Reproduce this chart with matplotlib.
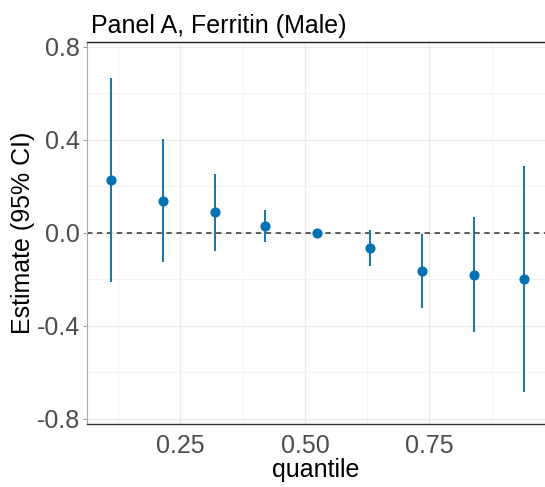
import matplotlib.pyplot as plt
import numpy as np
from matplotlib.ticker import MultipleLocator, FixedLocator

plt.rcParams['font.family'] = ['Liberation Sans', 'DejaVu Sans']

# quantile regression estimates with 95% CI
quantile = [0.11, 0.215, 0.32, 0.42, 0.525, 0.63, 0.735, 0.84, 0.94]
estimate = [0.226, 0.137, 0.089, 0.030, 0.0, -0.067, -0.164, -0.180, -0.198]
ci_low = [-0.214, -0.127, -0.080, -0.040, 0.0, -0.144, -0.325, -0.427, -0.684]
ci_high = [0.664, 0.401, 0.254, 0.096, 0.0, 0.010, -0.004, 0.067, 0.287]

x_ticks = [0.25, 0.50, 0.75]
x_tick_labels = ['0.25', '0.50', '0.75']
y_ticks = [-0.8, -0.4, 0.0, 0.4, 0.8]
y_tick_labels = ['-0.8', '-0.4', '0.0', '0.4', '0.8']

col = '#0072B2'

fig = plt.figure(figsize=[5.45, 4.87], dpi=100)
ax = fig.add_axes([87/545, 63/487, 1 - 87/545, (424 - 42)/487])

ax.axhline(0, color='#333333', linestyle=(0, (3.5, 3)), linewidth=1.1, zorder=2)
ax.vlines(quantile, ci_low, ci_high, color='#1874AA', linewidth=1.4, zorder=3)
ax.plot(quantile, estimate, 'o', color=col, markersize=6.3, zorder=4)

ax.set_xlim(0.0625, 0.982)
ax.set_ylim(-0.823, 0.82)
ax.set_xticks(x_ticks)
ax.set_xticklabels(x_tick_labels)
ax.set_yticks(y_ticks)
ax.set_yticklabels(y_tick_labels)
ax.xaxis.set_minor_locator(FixedLocator([0.125, 0.375, 0.625, 0.875]))
ax.yaxis.set_minor_locator(FixedLocator([-0.6, -0.2, 0.2, 0.6]))

ax.grid(True, which='major', color='#EBEBEB', linewidth=1.0, zorder=0)
ax.grid(True, which='minor', color='#F2F2F2', linewidth=0.6, zorder=0)
ax.set_axisbelow(True)

ax.tick_params(axis='both', which='major', labelsize=18, labelcolor='#4D4D4D',
               length=3, width=0.6, color='#888888', pad=2)
ax.tick_params(axis='x', which='major', length=0, pad=7.5)
ax.tick_params(which='minor', length=0)

ax.spines['right'].set_visible(False)
ax.spines['top'].set_color('#222222')
ax.spines['top'].set_linewidth(1.0)
ax.spines['bottom'].set_color('#333333')
ax.spines['bottom'].set_linewidth(1.0)
ax.spines['left'].set_color('#AAAAAA')
ax.spines['left'].set_linewidth(0.8)

ax.set_xlabel('quantile', fontsize=18, labelpad=0)
ax.set_ylabel('Estimate (95% CI)', fontsize=18, labelpad=1)
fig.text(91/545, 1 - 33/487, 'Panel A, Ferritin (Male)', fontsize=18,
         ha='left', va='baseline')

fig.savefig('out.png', dpi=100)
